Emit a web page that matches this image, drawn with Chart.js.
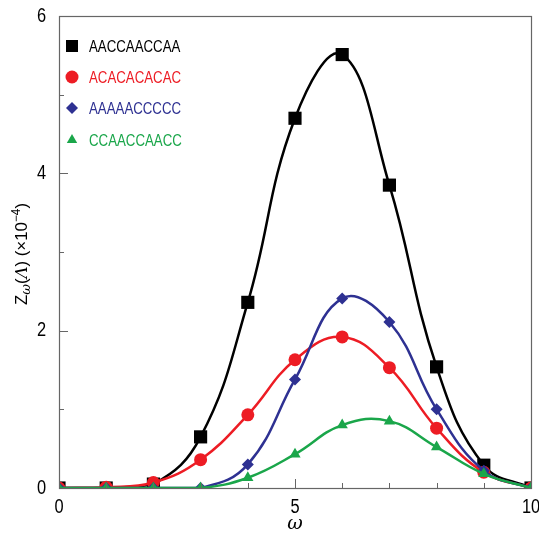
<!DOCTYPE html>
<html>
<head>
<meta charset="utf-8">
<script src="https://cdn.jsdelivr.net/npm/chart.js"></script>
<style>
  html, body { margin: 0; padding: 0; background: #fff; }
  #wrap { width: 539px; height: 534px; position: relative; }
</style>
</head>
<body>
<div id="wrap"><canvas id="zChart"></canvas></div>
<script>
// omega values and Z values (x 10^-4) per sequence
const omega = [0, 1, 2, 3, 4, 5, 6, 7, 8, 9, 10];
const seqNames = ['AACCAACCAA', 'ACACACACAC', 'AAAAACCCCC', 'CCAACCAACC'];
const zAACC = [0, 0, 0.05, 0.65, 2.36, 4.70, 5.51, 3.85, 1.54, 0.29, 0];
const zACAC = [0, 0.01, 0.07, 0.36, 0.93, 1.63, 1.92, 1.53, 0.76, 0.20, 0];
const zAAAA = [0, 0, 0, 0, 0.30, 1.38, 2.41, 2.11, 1.00, 0.22, 0];
const zCCAA = [0, 0, 0, 0, 0.13, 0.43, 0.80, 0.85, 0.52, 0.18, 0];
const xTicks = [0, 5, 10];
const yTicks = [0, 2, 4, 6];

const colors = ['#000000', '#ed1c24', '#2e3192', '#1aa64a'];
const styles = ['rect', 'circle', 'rectRot', 'triangle'];
const radii = [9.3, 6.5, 6, 6.5];
const FONT = '"Liberation Sans", Arial, sans-serif';
const SQUEEZE = 0.78; // condensed look for the label text
const FRAME = '#666666';

function series(vals) {
  return omega.map((x, i) => ({ x: x, y: vals[i] }));
}

const allSeries = [zAACC, zACAC, zAAAA, zCCAA];
const datasets = allSeries.map((vals, i) => ({
  label: seqNames[i],
  data: series(vals),
  borderColor: colors[i],
  backgroundColor: colors[i],
  borderWidth: 2.5,
  pointStyle: styles[i],
  pointRadius: radii[i],
  pointBorderWidth: 0,
  tension: 0.42,
  order: 4 - i
}));

function noPad(s) {
  s.paddingLeft = 0; s.paddingRight = 0; s.paddingTop = 0; s.paddingBottom = 0;
}

// draw text horizontally condensed, anchored by the current textAlign
function narrowText(ctx, text, x, y, sq) {
  ctx.save();
  ctx.translate(x, y);
  ctx.scale(sq, 1);
  ctx.fillText(text, 0, 0);
  ctx.restore();
}

// frame, inward tick marks, tick labels, axis titles and the legend
const decor = {
  id: 'decor',
  afterDraw(chart) {
    const { ctx, chartArea, scales } = chart;
    const xs = scales.x, ys = scales.y;
    ctx.save();
    ctx.strokeStyle = FRAME;
    ctx.lineWidth = 1.2;
    ctx.strokeRect(chartArea.left + 0.5, chartArea.top + 0.5,
      chartArea.right - chartArea.left, chartArea.bottom - chartArea.top);
    ctx.lineWidth = 1;
    for (let v = 1; v < 10; v++) {
      const px = Math.round(xs.getPixelForValue(v)) + 0.5;
      const len = v % 5 === 0 ? 9 : 5;
      ctx.beginPath();
      ctx.moveTo(px, chartArea.bottom);
      ctx.lineTo(px, chartArea.bottom - len);
      ctx.stroke();
    }
    for (let v = 1; v < 6; v++) {
      const py = Math.round(ys.getPixelForValue(v)) + 0.5;
      const len = v % 2 === 0 ? 9 : 5;
      ctx.beginPath();
      ctx.moveTo(chartArea.left, py);
      ctx.lineTo(chartArea.left + len, py);
      ctx.stroke();
    }

    // tick labels
    ctx.fillStyle = '#000';
    ctx.font = '20px ' + FONT;
    ctx.textBaseline = 'middle';
    ctx.textAlign = 'center';
    xTicks.forEach(v => narrowText(ctx, String(v), xs.getPixelForValue(v), 507, 0.82));
    ctx.textAlign = 'right';
    yTicks.forEach(v => narrowText(ctx, String(v), 46, ys.getPixelForValue(v), 0.82));

    // x title
    ctx.textAlign = 'center';
    ctx.font = 'italic 19px "DejaVu Serif", serif';
    ctx.fillText('ω', (chartArea.left + chartArea.right) / 2, 524);

    // y title, rotated
    ctx.translate(21, 254);
    ctx.rotate(-Math.PI / 2);
    ctx.textAlign = 'left';
    ctx.textBaseline = 'alphabetic';
    const parts = [
      { t: 'Z', f: '17px ' + FONT, dy: 6, sq: 1 },
      { t: 'ω', f: 'italic 12px "DejaVu Serif", serif', dy: 9, sq: 1.1 },
      { t: '(', f: '17px ' + FONT, dy: 6, sq: 1 },
      { t: 'Λ', f: 'italic 16px "DejaVu Serif", serif', dy: 6, sq: 1.05 },
      { t: ') (×10', f: '17px ' + FONT, dy: 6, sq: 1 },
      { t: '−4', f: '12px ' + FONT, dy: -1, sq: 1 },
      { t: ')', f: '17px ' + FONT, dy: 6, sq: 1 }
    ];
    let total = 0;
    parts.forEach(p => { ctx.font = p.f; total += ctx.measureText(p.t).width * p.sq; });
    const fit = 102 / total;
    let cx = -51;
    parts.forEach(p => {
      ctx.font = p.f;
      narrowText(ctx, p.t, cx, p.dy, p.sq * fit);
      cx += ctx.measureText(p.t).width * p.sq * fit;
    });
    ctx.restore();

    // legend
    ctx.save();
    const rowY = [46, 77, 108, 140];
    const legendRadii = [8.5, 6.5, 6, 6];
    seqNames.forEach((name, i) => {
      ctx.fillStyle = colors[i];
      ctx.strokeStyle = colors[i];
      Chart.helpers.drawPoint(ctx, {
        pointStyle: styles[i], radius: legendRadii[i], borderWidth: 0
      }, 72, rowY[i]);
      ctx.fillStyle = colors[i];
      ctx.font = '17px ' + FONT;
      ctx.textAlign = 'left';
      ctx.textBaseline = 'middle';
      narrowText(ctx, name, 89, rowY[i] + 1, SQUEEZE);
    });
    ctx.restore();
  }
};

new Chart(document.getElementById('zChart'), {
  type: 'line',
  data: { datasets: datasets },
  options: {
    responsive: true,
    maintainAspectRatio: false,
    animation: false,
    layout: { padding: { top: 16, right: 8, left: 0, bottom: 0 }, autoPadding: false },
    plugins: { legend: { display: false }, tooltip: { enabled: false } },
    scales: {
      x: {
        type: 'linear',
        min: 0, max: 10,
        afterFit: s => { s.height = 46; noPad(s); },
        afterBuildTicks: s => { s.ticks = xTicks.map(v => ({ value: v })); },
        grid: { display: false, drawTicks: false },
        border: { display: false },
        ticks: { display: false }
      },
      y: {
        type: 'linear',
        min: 0, max: 6,
        afterFit: s => { s.width = 59; noPad(s); },
        afterBuildTicks: s => { s.ticks = yTicks.map(v => ({ value: v })); },
        grid: { display: false, drawTicks: false },
        border: { display: false },
        ticks: { display: false }
      }
    }
  },
  plugins: [decor]
});
</script>
</body>
</html>
